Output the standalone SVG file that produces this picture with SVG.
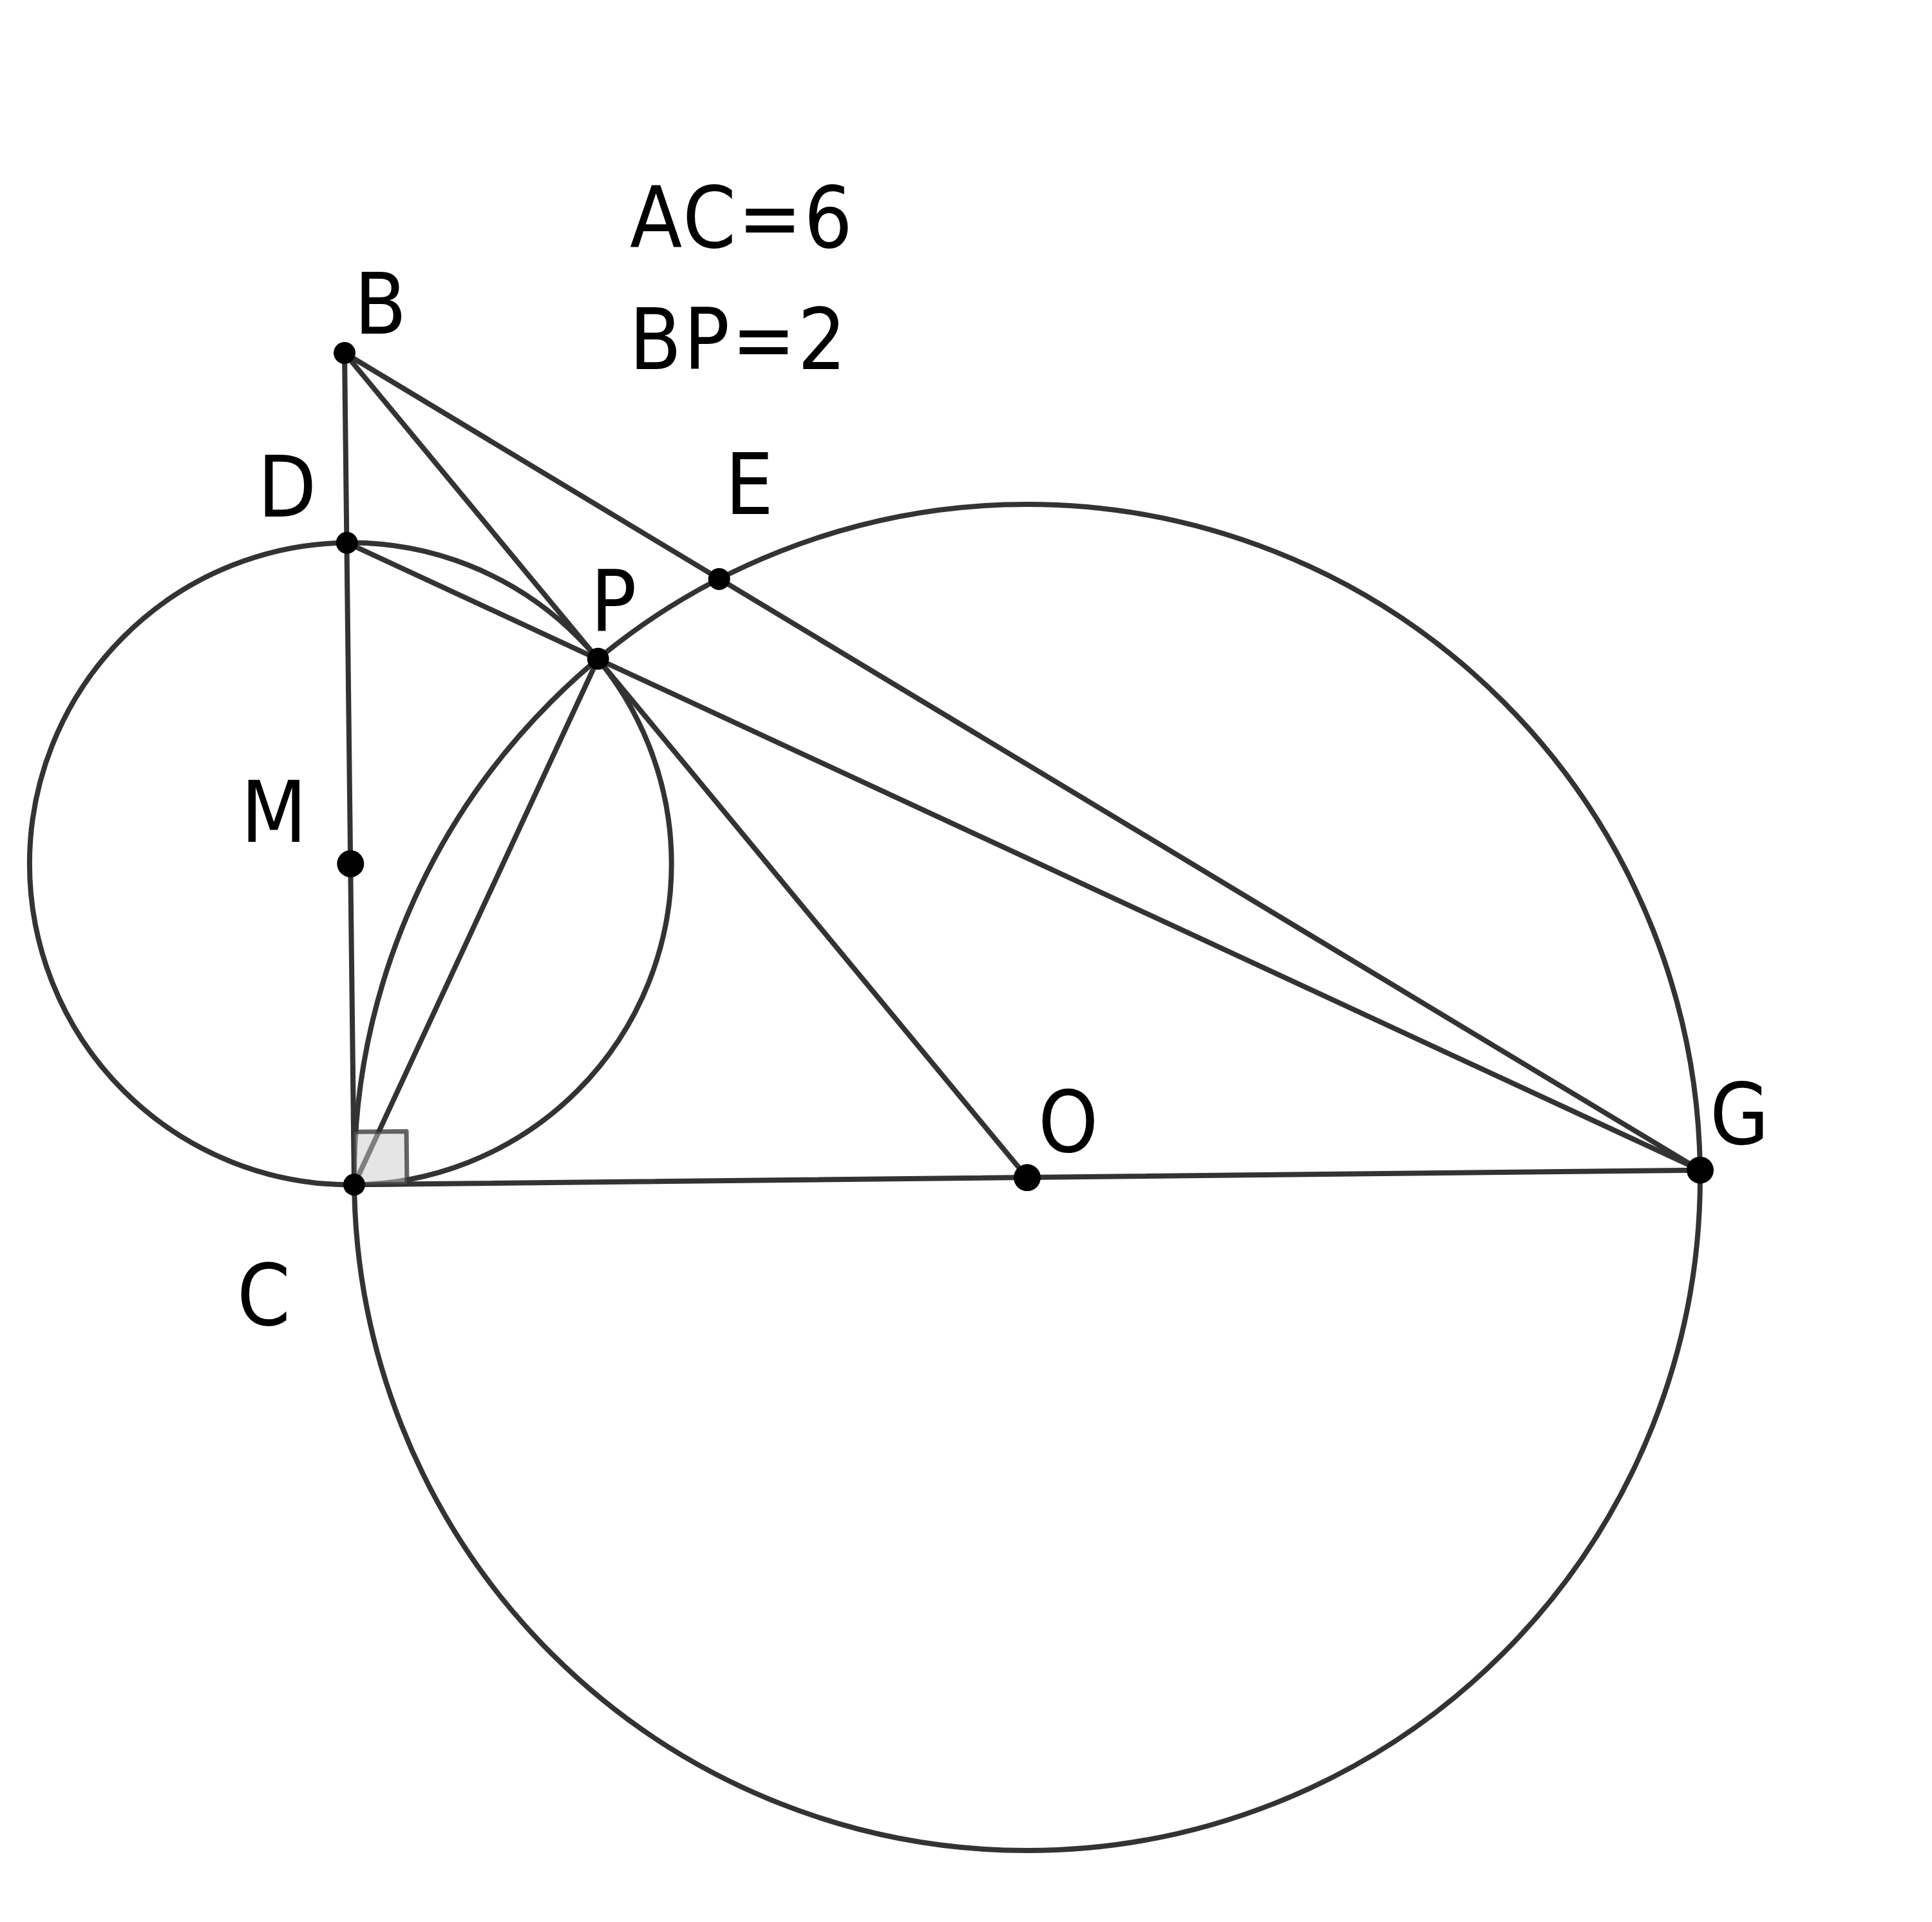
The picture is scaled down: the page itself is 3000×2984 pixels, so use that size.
<svg xmlns="http://www.w3.org/2000/svg" width="3000" height="2984" viewBox="0 0 3000 2984">
<style>
.c{fill:none;stroke:#333;stroke-width:8}
.l{stroke:#333;stroke-width:8;stroke-linecap:round}
.p{fill:#000}
.t{font-family:"DejaVu Sans Condensed","DejaVu Sans",sans-serif;font-stretch:condensed;font-size:132px;fill:#000}
.g{letter-spacing:3px}
</style>
<rect width="3000" height="2984" fill="#fff"/>
<g id="circles">
<circle id="circle-M" class="c" cx="544.3" cy="1341" r="498.4"/>
<circle id="circle-O" class="c" cx="1595" cy="1828" r="1045"/>
</g>
<g id="connectors">
<line class="l" x1="535" y1="548" x2="550" y2="1839.3"/>
<line class="l" x1="535" y1="548" x2="1595" y2="1828.3"/>
<line class="l" x1="535" y1="548" x2="2640" y2="1816.7"/>
<line class="l" x1="538.7" y1="842.7" x2="2640" y2="1816.7"/>
<line class="l" x1="550" y1="1839.3" x2="928.7" y2="1022.7"/>
<line class="l" x1="550" y1="1839.3" x2="2640" y2="1816.7"/>
</g>
<g id="right-angle">
<polygon points="550,1839.3 632,1838.4 631.1,1756.4 549.1,1757.3" fill="#ccc" fill-opacity="0.5" stroke="#333" stroke-opacity="0.75" stroke-width="7" stroke-linejoin="round"/>
</g>
<g id="node-B"><circle class="p" cx="535" cy="548" r="17"/><text class="t" x="550" y="518">B</text></g>
<g id="node-D"><circle class="p" cx="538.7" cy="842.7" r="17"/><text class="t" x="400" y="802">D</text></g>
<g id="node-M"><circle class="p" cx="544.3" cy="1341" r="21"/><text class="t" x="374" y="1307">M</text></g>
<g id="node-C"><circle class="p" cx="550" cy="1839.3" r="17"/><text class="t" x="368" y="2057">C</text></g>
<g id="node-P"><circle class="p" cx="928.7" cy="1022.7" r="17"/><text class="t" x="917" y="980">P</text></g>
<g id="node-E"><circle class="p" cx="1116.7" cy="899" r="17"/><text class="t" x="1126" y="798">E</text></g>
<g id="node-O"><circle class="p" cx="1595" cy="1828.3" r="21"/><text class="t" x="1612" y="1788">O</text></g>
<g id="node-G"><circle class="p" cx="2640" cy="1816.7" r="21"/><text class="t" x="2655" y="1776">G</text></g>
<g id="given">
<text class="t g" x="978" y="384">AC=6</text>
<text class="t g" x="977" y="573">BP=2</text>
</g>
</svg>
